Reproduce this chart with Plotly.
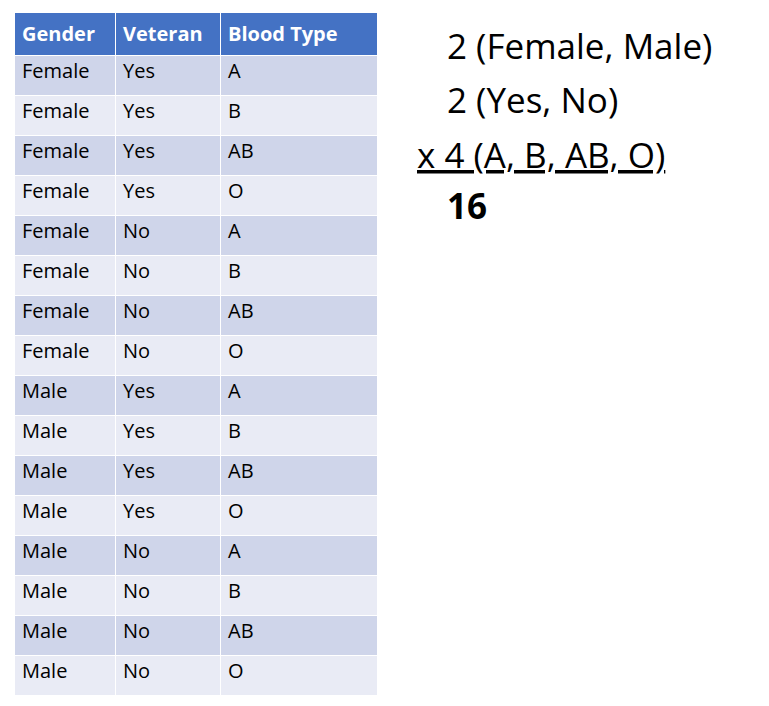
import plotly.graph_objects as go

# table columns
headers = ["Gender", "Veteran", "Blood Type"]
genders = ["Female"] * 8 + ["Male"] * 8
veterans = (["Yes"] * 4 + ["No"] * 4) * 2
blood_types = ["A", "B", "AB", "O"] * 4

# right-hand counting text
count_lines = ["2 (Female, Male)", "2 (Yes, No)", "x 4 (A, B, AB, O)"]
total = "16"

W, H = 769, 706
FONT = "Open Sans"

row_colors = ["#CFD5EA" if i % 2 == 0 else "#E9EBF5" for i in range(len(genders))]

fig = go.Figure()
fig.add_trace(
    go.Table(
        domain=dict(x=[6 / W, 369 / W], y=[0, 1 - 4 / H]),
        columnwidth=[101, 105, 157],
        header=dict(
            values=[f"<b>{h}</b>" for h in headers],
            fill_color="#4472C4",
            font=dict(color="white", size=20, family=FONT),
            align="left",
            height=40,
            line=dict(color="white", width=1),
        ),
        cells=dict(
            values=[genders, veterans, blood_types],
            fill_color=[row_colors] * 3,
            font=dict(color="black", size=20, family=FONT),
            align="left",
            height=40,
            line=dict(color="white", width=1),
        ),
    )
)

ys = [38, 91, 146]
xs = [437, 437, 407]
for text, x, y in zip(count_lines, xs, ys):
    if text.startswith("x"):
        text = f"<u>{text}</u>"
    fig.add_annotation(
        text=text, x=x / W, y=1 - y / H, xref="paper", yref="paper",
        xanchor="left", yanchor="middle", showarrow=False,
        font=dict(size=35, family=FONT, color="black"),
    )
fig.add_annotation(
    text=f"<b>{total}</b>", x=437 / W, y=1 - 198 / H, xref="paper", yref="paper",
    xanchor="left", yanchor="middle", showarrow=False,
    font=dict(size=35, family=FONT, color="black"),
)

fig.update_layout(
    width=W, height=H,
    margin=dict(l=0, r=0, t=0, b=0),
    paper_bgcolor="white",
    plot_bgcolor="white",
)

fig.write_html("out.html")
